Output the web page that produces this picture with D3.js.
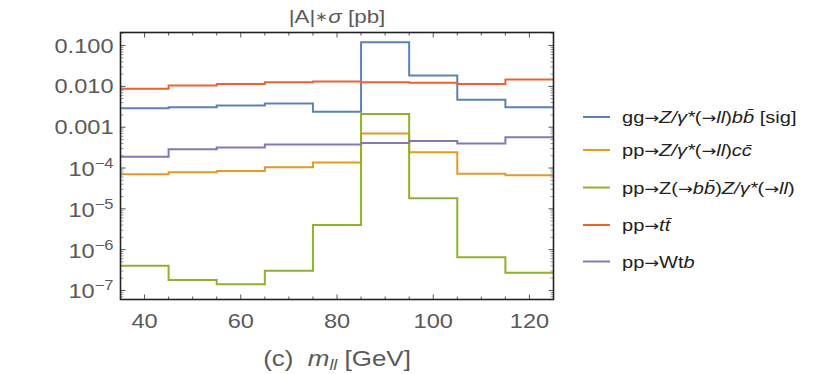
<!DOCTYPE html>
<html>
<head>
<meta charset="utf-8">
<script src="https://cdn.jsdelivr.net/npm/d3@7"></script>
<style>
  body { margin: 0; background: #fff; }
  text { font-family: "Liberation Sans", Arial, sans-serif; white-space: pre; }
</style>
</head>
<body>
<div id="chart"></div>
<script>
// data
const binEdges = [35, 45, 55, 65, 75, 85, 95, 105, 115, 125];
const sigValues   = [0.0029, 0.0031, 0.0034, 0.0038, 0.0024, 0.12, 0.0184, 0.0047, 0.0031];
const ccValues    = [7.0e-5, 7.85e-5, 8.5e-5, 1.04e-4, 1.36e-4, 7.0e-4, 2.43e-4, 7.2e-5, 6.6e-5];
const zzValues    = [4.05e-7, 1.81e-7, 1.41e-7, 3.05e-7, 4.0e-6, 2.1e-3, 1.81e-5, 6.5e-7, 2.7e-7];
const ttValues    = [0.0087, 0.0105, 0.0115, 0.0126, 0.0131, 0.0126, 0.0122, 0.0115, 0.0147];
const wtbValues   = [1.9e-4, 2.88e-4, 3.16e-4, 3.75e-4, 3.75e-4, 4.12e-4, 4.61e-4, 4.0e-4, 5.66e-4];
const xTickLabels = [40, 60, 80, 100, 120];
const yTickValues = [1e-1, 1e-2, 1e-3, 1e-4, 1e-5, 1e-6, 1e-7];

const series = [
  { values: sigValues, color: "#5E81B5", label: [["gg→", ""], ["Z/γ*", "i"], ["(→", ""], ["ll", "i"], [")", ""], ["bb\u0304", "i"], [" [sig]", ""]] },
  { values: ccValues,  color: "#E19C24", label: [["pp→", ""], ["Z/γ*", "i"], ["(→", ""], ["ll", "i"], [")", ""], ["cc\u0304", "i"]] },
  { values: zzValues,  color: "#8FB032", label: [["pp→Z(→", ""], ["bb\u0304", "i"], [")", ""], ["Z/γ*", "i"], ["(→", ""], ["ll", "i"], [")", ""]] },
  { values: ttValues,  color: "#EB6235", label: [["pp→", ""], ["tt\u0304", "i"]] },
  { values: wtbValues, color: "#8778B3", label: [["pp→Wt", ""], ["b", "i"]] }
];

const W = 814, H = 374;
const plot = { left: 120.5, right: 553.5, top: 32.5, bottom: 299.5 };
const sx = 1.18; // the reference's text is a bit wide

const svg = d3.select("#chart").append("svg")
  .attr("width", W).attr("height", H);

const x = d3.scaleLinear().domain([35, 125]).range([plot.left, plot.right]);
const y = d3.scaleLog().domain([6.0e-8, 0.209]).range([plot.bottom, plot.top]);

function addText(parent, px, py, size, anchor) {
  return parent.append("text")
    .attr("transform", `translate(${px},${py}) scale(${sx},1)`)
    .attr("font-size", size)
    .attr("text-anchor", anchor);
}

// clip for the step lines
svg.append("clipPath").attr("id", "clip")
  .append("rect")
  .attr("x", plot.left).attr("y", plot.top)
  .attr("width", plot.right - plot.left).attr("height", plot.bottom - plot.top);

const line = d3.line().x(d => x(d[0])).y(d => y(d[1]));

function stepPoints(vals) {
  const pts = [];
  vals.forEach((v, i) => {
    pts.push([binEdges[i], v]);
    pts.push([binEdges[i + 1], v]);
  });
  return pts;
}

const lines = svg.append("g").attr("clip-path", "url(#clip)");
series.forEach(s => {
  lines.append("path")
    .datum(stepPoints(s.values))
    .attr("fill", "none")
    .attr("stroke", s.color)
    .attr("stroke-width", 2)
    .attr("d", line);
});

// ticks (inward, on all four sides)
const tickColor = "#555";
const xMinor = d3.range(35, 126, 5).filter(v => xTickLabels.indexOf(v) < 0);
const yMinor = [];
for (let e = -8; e <= -1; e++) {
  for (let m = 2; m <= 9; m++) {
    const v = m * Math.pow(10, e);
    if (v >= 6.0e-8 && v <= 0.209) yMinor.push(v);
  }
}

const ticks = svg.append("g").attr("stroke", tickColor).attr("stroke-width", 1);
xTickLabels.forEach(v => {
  ticks.append("line").attr("x1", x(v)).attr("x2", x(v)).attr("y1", plot.bottom).attr("y2", plot.bottom - 5);
  ticks.append("line").attr("x1", x(v)).attr("x2", x(v)).attr("y1", plot.top).attr("y2", plot.top + 5);
});
xMinor.forEach(v => {
  ticks.append("line").attr("x1", x(v)).attr("x2", x(v)).attr("y1", plot.bottom).attr("y2", plot.bottom - 3);
  ticks.append("line").attr("x1", x(v)).attr("x2", x(v)).attr("y1", plot.top).attr("y2", plot.top + 3);
});
yTickValues.forEach(v => {
  ticks.append("line").attr("y1", y(v)).attr("y2", y(v)).attr("x1", plot.left).attr("x2", plot.left + 5);
  ticks.append("line").attr("y1", y(v)).attr("y2", y(v)).attr("x1", plot.right).attr("x2", plot.right - 5);
});
yMinor.forEach(v => {
  ticks.append("line").attr("y1", y(v)).attr("y2", y(v)).attr("x1", plot.left).attr("x2", plot.left + 3)
    .attr("stroke", "#999");
  ticks.append("line").attr("y1", y(v)).attr("y2", y(v)).attr("x1", plot.right).attr("x2", plot.right - 3)
    .attr("stroke", "#999");
});

// frame
svg.append("rect")
  .attr("x", plot.left).attr("y", plot.top)
  .attr("width", plot.right - plot.left).attr("height", plot.bottom - plot.top)
  .attr("fill", "none").attr("stroke", "#222").attr("stroke-width", 1.6);

// tick labels
const labelColor = "#5a5a5a";
const xLab = svg.append("g").attr("fill", labelColor);
xTickLabels.forEach(v => {
  addText(xLab, x(v), plot.bottom + 28, 20, "middle").text(v);
});

const yLab = svg.append("g").attr("fill", labelColor);
yTickValues.forEach(v => {
  const e = Math.round(Math.log10(v));
  if (e >= -3) {
    addText(yLab, plot.left - 7, y(v) + 7, 20, "end").text(v.toFixed(3));
  } else {
    const t = addText(yLab, plot.left - 7, y(v) + 8, 20, "end");
    t.append("tspan").text("10");
    t.append("tspan").attr("dy", -8).attr("font-size", 14).text("−" + (-e));
  }
});

// title
const title = addText(svg, 337, 23, 19, "middle").attr("fill", labelColor);
title.append("tspan").text("|A|");
title.append("tspan").attr("font-size", 13).attr("dy", -2).text("∗");
title.append("tspan").attr("font-style", "italic").attr("dy", 2).text("σ");
title.append("tspan").text(" [pb]");

// x axis label
const xl = addText(svg, 337, 366, 22, "middle").attr("fill", labelColor);
xl.append("tspan").text("(c)  ");
xl.append("tspan").attr("font-style", "italic").text("m");
xl.append("tspan").attr("font-style", "italic").attr("font-size", 15).attr("dy", 4).text("ll");
xl.append("tspan").attr("dy", -4).text(" [GeV]");

// legend
const legendY = [117, 150, 187.5, 225, 261.5];
const legend = svg.append("g");
series.forEach((s, i) => {
  legend.append("line")
    .attr("x1", 583).attr("x2", 610)
    .attr("y1", legendY[i]).attr("y2", legendY[i])
    .attr("stroke", s.color).attr("stroke-width", 2);
  const t = addText(legend, 622, legendY[i] + 6, 17, "start").attr("fill", "#222");
  s.label.forEach(([txt, st]) => {
    // arrows look better in DejaVu
    txt.split(/(→)/).filter(p => p.length).forEach(part => {
      const sp = t.append("tspan").attr("font-style", st === "i" ? "italic" : "normal").text(part);
      if (part === "→") sp.attr("font-family", "DejaVu Sans").attr("font-style", "normal").attr("font-size", 15);
    });
  });
});
</script>
</body>
</html>
